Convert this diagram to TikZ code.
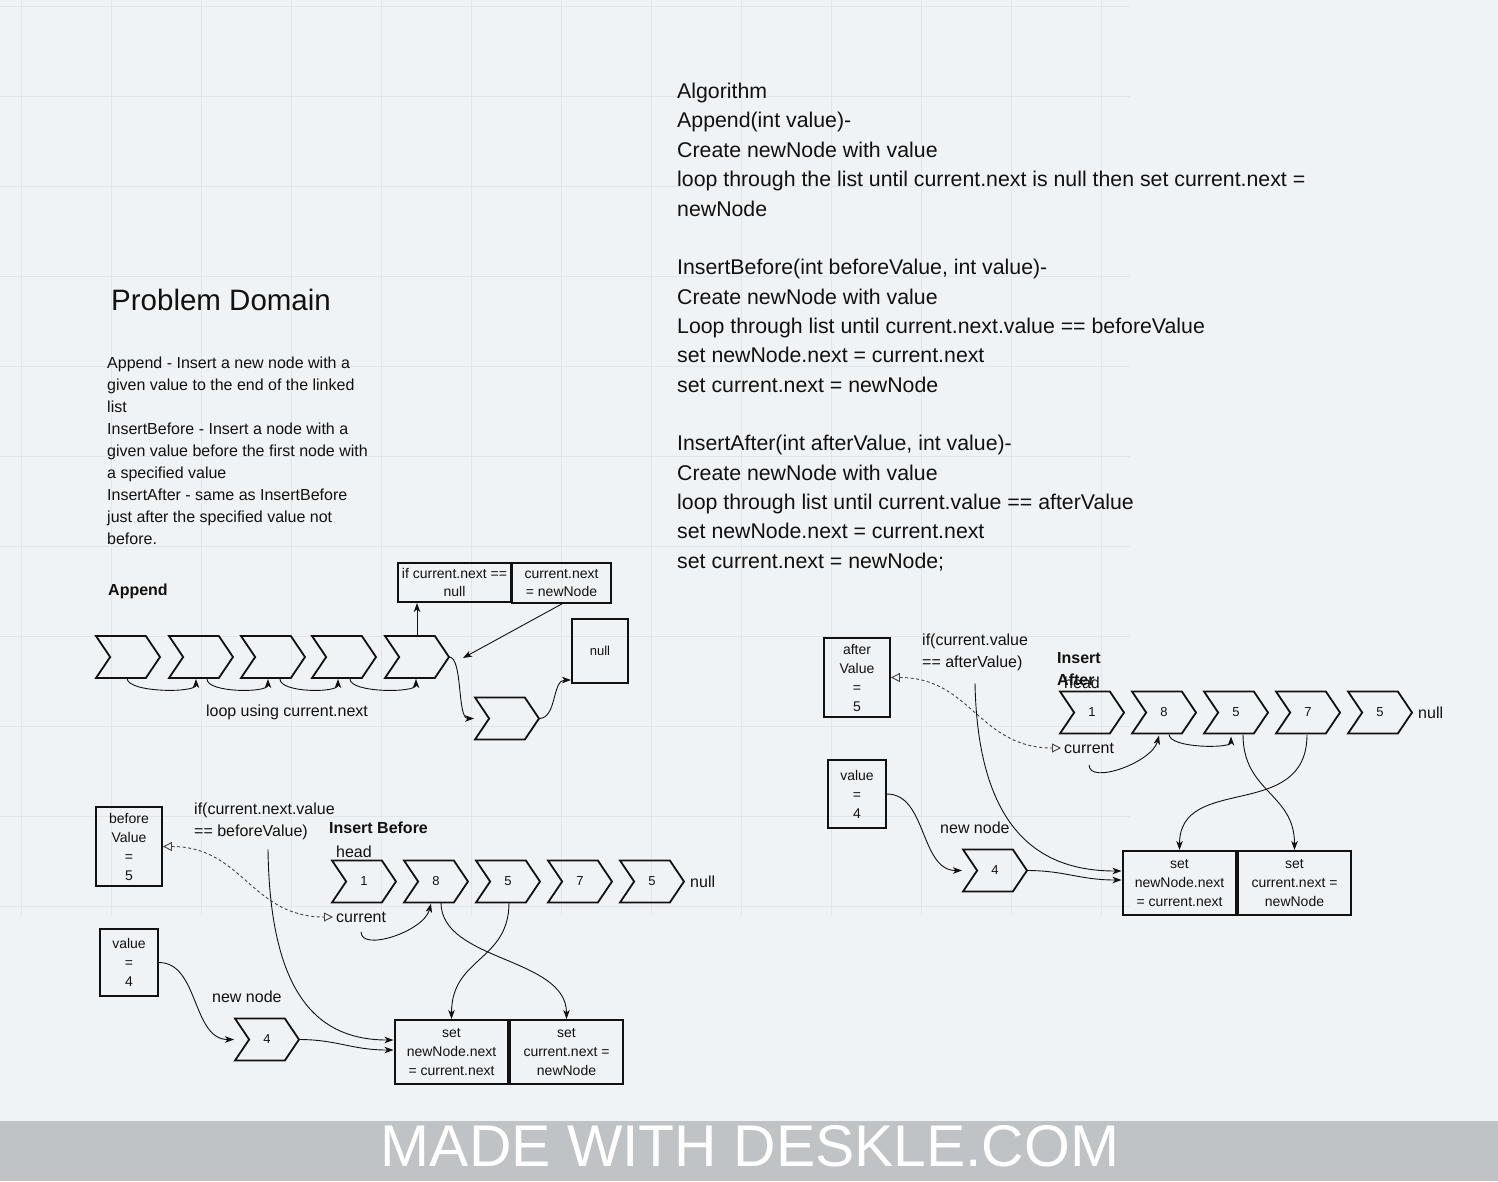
\documentclass[tikz,border=0pt]{standalone}
\usepackage{fontspec}
\setmainfont{Liberation Sans}
\usetikzlibrary{shapes.symbols,arrows.meta,calc}
\newcommand\myfs[2]{\fontsize{#1}{#2}\selectfont}
\definecolor{bgc}{RGB}{240,243,246}
\definecolor{gridc}{RGB}{226,230,235}
\definecolor{footc}{RGB}{192,195,198}
\definecolor{inkc}{RGB}{17,17,17}
\tikzset{
  chev/.style={shape=signal, signal to=east, signal from=west, signal pointer angle=112,
    draw=inkc, line width=1.8pt, minimum width=64pt, minimum height=42pt, inner sep=0pt,
    font=\myfs{13}{15}, text=inkc},
  box/.style={draw=inkc, line width=1.8pt, inner sep=0pt, align=center, font=\myfs{14}{19}, text=inkc},
  conn/.style={draw=inkc, line width=0.9pt, -{Stealth[length=9pt,width=6.5pt,inset=2.5pt]}},
  dconn/.style={draw=inkc!80, line width=0.9pt, dash pattern=on 3pt off 2.5pt,
    {Triangle[open,length=9pt,width=9pt]}-{Triangle[open,length=9pt,width=9pt]}},
  lbl/.style={inner sep=0pt, font=\myfs{16}{22}, text=inkc},
  blbl/.style={inner sep=0pt, font=\bfseries\myfs{16}{22}, text=inkc},
}
\begin{document}
\begin{tikzpicture}[x=1pt,y=-1pt]
\useasboundingbox (0,0) rectangle (1498,1181);
\fill[bgc] (0,0) rectangle (1498,1181);
\foreach \gx in {21,111,...,1101} \draw[gridc,line width=1pt] (\gx,0) -- (\gx,915);
\foreach \gy in {6,96,...,906} \draw[gridc,line width=1pt] (0,\gy) -- (1130,\gy);
\fill[footc] (0,1121) rectangle (1498,1181);
\node[anchor=base, text=white, font=\myfs{58.8}{60}, inner sep=0pt] (foot) at (750,1166) {MADE WITH DESKLE.COM};

% ---------- texts ----------
\node[anchor=north west, inner sep=0pt, align=left, font=\myfs{21.3}{29.35}, text=inkc] (algo) at (677,83)
 {Algorithm\\Append(int value)-\\Create newNode with value\\loop through the list until current.next is null then set current.next =\\newNode\\[29.35pt]InsertBefore(int beforeValue, int value)-\\Create newNode with value\\Loop through list until current.next.value == beforeValue\\set newNode.next = current.next\\set current.next = newNode\\[29.35pt]InsertAfter(int afterValue, int value)-\\Create newNode with value\\loop through list until current.value == afterValue\\set newNode.next = current.next\\set current.next = newNode;};
\node[anchor=base west, inner sep=0pt, font=\myfs{29.5}{34}, text=inkc] (pdt) at (111,310) {Problem Domain};
\node[anchor=north west, lbl, align=left] (pdx) at (107,356.5)
 {Append - Insert a new node with a\\given value to the end of the linked\\list\\InsertBefore - Insert a node with a\\given value before the first node with\\a specified value\\InsertAfter - same as InsertBefore\\just after the specified value not\\before.};

% ---------- Append ----------
\node[anchor=base west, blbl] (apl) at (108,595.7) {Append};
\node[chev] (ap1) at (128,657) {};
\node[chev] (ap2) at (201,657) {};
\node[chev] (ap3) at (273,657) {};
\node[chev] (ap4) at (344,657) {};
\node[chev] (ap5) at (417,657) {};
\node[chev] (apn) at (507,718.5) {};
\node[box, minimum width=56pt, minimum height=64pt, font=\myfs{13}{15}] (nullb) at (600,651) {null};
\node[box, minimum width=113pt, minimum height=39pt, font=\myfs{14}{18}] (ifb) at (454.5,582.5) {if current.next ==\\null};
\node[box, minimum width=99pt, minimum height=40pt, font=\myfs{14}{18}] (cnb) at (561.5,583) {current.next\\= newNode};
\node[lbl] (loopl) at (287,712) {loop using current.next};

\draw[conn] ($(ap5.center)+(0,-22)$) -- ($(ap5.center)+(0,-54)$);
\draw[conn] ($(cnb.center)+(2,20)$) -- ($(ap5.center)+(46,1)$);
\draw[conn] ($(ap5.center)+(32,0)$) .. controls ($(ap5.center)+(46,0)$) and ($(apn.center)+(-50,0)$) .. ($(apn.center)+(-33,0)$);
\draw[conn] ($(apn.center)+(32,0)$) .. controls ($(apn.center)+(50,0)$) and ($(nullb.center)+(-48,29)$) .. ($(nullb.center)+(-29,29)$);
\draw[conn] ($(ap1.center)+(-1,21)$) .. controls ($(ap1.center)+(-1,36)$) and ($(ap2.center)+(-5,36)$) .. ($(ap2.center)+(-5,22)$);
\draw[conn] ($(ap2.center)+(6,22)$) .. controls ($(ap2.center)+(6,36)$) and ($(ap3.center)+(-5,36)$) .. ($(ap3.center)+(-5,22)$);
\draw[conn] ($(ap3.center)+(7,22)$) .. controls ($(ap3.center)+(7,36)$) and ($(ap4.center)+(-6,36)$) .. ($(ap4.center)+(-6,22)$);
\draw[conn] ($(ap4.center)+(6,22)$) .. controls ($(ap4.center)+(6,36)$) and ($(ap5.center)+(-1,36)$) .. ($(ap5.center)+(-1,22)$);

% ---------- Insert Before ----------
\node[box, minimum width=66pt, minimum height=79pt] (bvb) at (129,846.5) {before\\Value\\=\\5};
\node[anchor=north west, lbl, align=left] (ifB) at (194,803) {if(current.next.value\\== beforeValue)};
\node[anchor=base west, blbl] (ibl) at (329,833) {Insert Before};
\node[anchor=west, lbl] (headB) at (336,852) {head};
\node[chev] (b1) at (364,881.5) {1};
\node[chev] (b2) at (436,881.5) {8};
\node[chev] (b3) at (508,881.5) {5};
\node[chev] (b4) at (580,881.5) {7};
\node[chev] (b5) at (652,881.5) {5};
\node[anchor=west, lbl] (nullB) at (690,881.5) {null};
\node[anchor=west, lbl] (curB) at (336,917) {current};
\node[box, minimum width=58pt, minimum height=67pt] (vbB) at (129,962.5) {value\\=\\4};
\node[anchor=west, lbl] (nnB) at (212,997) {new node};
\node[chev] (nb) at (267,1039.5) {4};
\node[box, minimum width=113pt, minimum height=64pt] (sB1) at (451.5,1052) {set\\newNode.next\\= current.next};
\node[box, minimum width=113pt, minimum height=64pt] (sB2) at (566.5,1052) {set\\current.next =\\newNode};

\draw[dconn] (bvb.east) .. controls ($(bvb.east)+(80,0)$) and ($(curB.west)+(-85,0)$) .. ($(curB.west)+(-3,0)$);
\draw[conn] ($(curB.center)+(0,15)$) .. controls ($(curB.center)+(0,35)$) and ($(b2.center)+(-12,50)$) .. ($(b2.center)+(-5,22)$);
\draw[conn] ($(b2.center)+(5,21)$) .. controls ($(b2.center)+(5,80)$) and ($(sB2.center)+(0,-95)$) .. ($(sB2.center)+(0,-33)$);
\draw[conn] ($(b3.center)+(1,21)$) .. controls ($(b3.center)+(1,80)$) and ($(sB1.center)+(0,-95)$) .. ($(sB1.center)+(0,-33)$);
\draw[conn] (vbB.east) .. controls ($(vbB.east)+(40,0)$) and ($(nb.center)+(-75,0)$) .. ($(nb.center)+(-33,0)$);
\draw[conn] ($(nb.center)+(32,0)$) .. controls ($(nb.center)+(70,0)$) and ($(sB1.center)+(-100,-2)$) .. ($(sB1.center)+(-58,-2)$);
\draw[conn] ($(ifB.south west)+(74,9)$) .. controls ($(ifB.south west)+(76,160)$) and ($(sB1.center)+(-130,-12)$) .. ($(sB1.center)+(-58,-12)$);

% ---------- Insert After ----------
\node[box, minimum width=66pt, minimum height=79pt] (avb) at (857,677.5) {after\\Value\\=\\5};
\node[anchor=north west, lbl, align=left] (ifA) at (922,634) {if(current.value\\== afterValue)};
\node[anchor=north west, blbl, align=left] (ial) at (1057,652) {Insert\\After};
\node[anchor=west, lbl] (headA) at (1064,683) {head};
\node[chev] (a1) at (1092,712.5) {1};
\node[chev] (a2) at (1164,712.5) {8};
\node[chev] (a3) at (1236,712.5) {5};
\node[chev] (a4) at (1308,712.5) {7};
\node[chev] (a5) at (1380,712.5) {5};
\node[anchor=west, lbl] (nullA) at (1418,712.5) {null};
\node[anchor=west, lbl] (curA) at (1064,748) {current};
\node[box, minimum width=58pt, minimum height=68pt] (vbA) at (857,794) {value\\=\\4};
\node[anchor=west, lbl] (nnA) at (940,828) {new node};
\node[chev] (na) at (995,870.5) {4};
\node[box, minimum width=113pt, minimum height=64pt] (sA1) at (1179.5,883) {set\\newNode.next\\= current.next};
\node[box, minimum width=113pt, minimum height=64pt] (sA2) at (1294.5,883) {set\\current.next =\\newNode};

\draw[dconn] (avb.east) .. controls ($(avb.east)+(80,0)$) and ($(curA.west)+(-85,0)$) .. ($(curA.west)+(-3,0)$);
\draw[conn] ($(curA.center)+(0,17)$) .. controls ($(curA.center)+(0,37)$) and ($(a2.center)+(-12,50)$) .. ($(a2.center)+(-5,23)$);
\draw[conn] ($(a2.center)+(5,22)$) .. controls ($(a2.center)+(6,36)$) and ($(a3.center)+(-5,36)$) .. ($(a3.center)+(-5,24)$);
\draw[conn] ($(a3.center)+(7,22)$) .. controls ($(a3.center)+(7,80)$) and ($(sA2.center)+(0,-90)$) .. ($(sA2.center)+(0,-33)$);
\draw[conn] ($(a4.center)+(-1,22)$) .. controls ($(a4.center)+(-1,110)$) and ($(sA1.center)+(0,-110)$) .. ($(sA1.center)+(0,-33)$);
\draw[conn] (vbA.east) .. controls ($(vbA.east)+(40,0)$) and ($(na.center)+(-75,0)$) .. ($(na.center)+(-33,0)$);
\draw[conn] ($(na.center)+(32,0)$) .. controls ($(na.center)+(70,0)$) and ($(sA1.center)+(-100,-3)$) .. ($(sA1.center)+(-58,-3)$);
\draw[conn] ($(ifA.south west)+(53,12)$) .. controls ($(ifA.south west)+(56,170)$) and ($(sA1.center)+(-130,-12)$) .. ($(sA1.center)+(-58,-12)$);
\end{tikzpicture}
\end{document}
